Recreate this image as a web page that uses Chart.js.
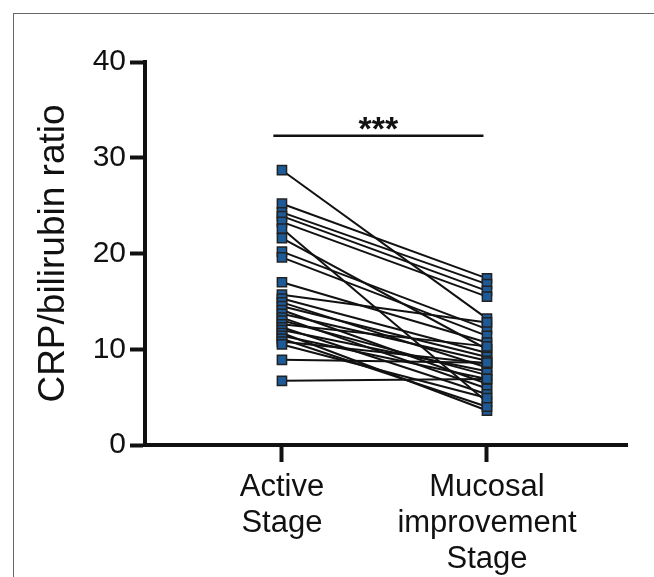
<!DOCTYPE html>
<html>
<head>
<meta charset="utf-8">
<script src="https://cdn.jsdelivr.net/npm/chart.js@4.4.1/dist/chart.umd.min.js"></script>
<style>
	html, body { margin: 0; padding: 0; background: #fff; overflow: hidden; }
	#wrap { position: relative; width: 654px; height: 577px; }
	#frame { position: absolute; left: 13px; top: 13px; width: 700px; height: 700px; border: 1.5px solid #666; }
	#chart { position: absolute; left: 0; top: 0; }
</style>
</head>
<body>
<div id="wrap">
	<div id="frame"></div>
	<canvas id="chart" width="654" height="577"></canvas>
</div>
<script>
// paired values (one entry per patient)
const stageLabels = [["Active", "Stage"], ["Mucosal", "improvement", "Stage"]];
const activeStage = [
	28.7, 25.2, 24.3, 23.9, 23.3, 22.6, 21.6, 20.2, 19.6, 17.0,
	15.7, 15.3, 14.9, 14.5, 14.1, 13.7, 13.3, 13.0, 12.6, 12.3,
	12.0, 11.7, 11.4, 11.1, 10.8, 10.5, 8.9, 6.7
];
const mucosalStage = [
	13.2, 17.4, 16.8, 16.1, 15.5, 4.5, 10.0, 12.1, 11.4, 10.7,
	12.8, 9.6, 8.1, 9.2, 6.4, 8.8, 5.9, 7.3, 10.3, 5.3,
	7.7, 3.6, 6.9, 4.0, 8.5, 4.9, 8.6, 6.9
];
const yTicks = [0, 10, 20, 30, 40];
const sigText = "***";

const fontFamily = "'Liberation Sans', Arial, sans-serif";
const markerFill = "#1c5a98";

// one line per pair, markers on top in a separate dataset
const pairLines = activeStage.map((a, i) => ({
	type: 'line',
	data: [{ x: 1, y: a }, { x: 2, y: mucosalStage[i] }],
	borderColor: '#111',
	borderWidth: 2,
	pointRadius: 0,
	fill: false,
	order: 2
}));

const markers = {
	type: 'scatter',
	data: [
		...activeStage.map(v => ({ x: 1, y: v })),
		...mucosalStage.map(v => ({ x: 2, y: v }))
	],
	pointStyle: 'rect',
	pointRadius: 6.5,
	pointBackgroundColor: markerFill,
	pointBorderColor: '#222',
	pointBorderWidth: 1.5,
	order: 1
};

// significance bar between the two stages
const sigBar = {
	id: 'sigBar',
	afterDraw(chart) {
		const { ctx, scales } = chart;
		const x0 = scales.x.getPixelForValue(0.958);
		const x1 = scales.x.getPixelForValue(1.983);
		const y = scales.y.getPixelForValue(32.3);
		ctx.save();
		ctx.strokeStyle = '#111';
		ctx.lineWidth = 2.5;
		ctx.beginPath();
		ctx.moveTo(x0, y);
		ctx.lineTo(x1, y);
		ctx.stroke();
		ctx.fillStyle = '#111';
		ctx.font = `bold 34px ${fontFamily}`;
		ctx.textAlign = 'center';
		ctx.textBaseline = 'alphabetic';
		ctx.fillText(sigText, (x0 + x1) / 2, y + 4);
		ctx.restore();
	}
};

new Chart(document.getElementById('chart'), {
	data: { datasets: [...pairLines, markers] },
	options: {
		responsive: false,
		animation: false,
		layout: { padding: { top: 62, right: 27, left: 0, bottom: 0 } },
		plugins: { legend: { display: false }, tooltip: { enabled: false } },
		scales: {
			x: {
				type: 'linear',
				min: 0.332,
				max: 2.683,
				afterBuildTicks: (scale) => { scale.ticks = [{ value: 1 }, { value: 2 }]; },
				afterFit: (scale) => { scale.height = 132; },
				ticks: {
					callback: (v) => stageLabels[v - 1],
					color: '#111',
					font: { family: fontFamily, size: 31, lineHeight: 1.17 },
					padding: 7,
					maxRotation: 0,
					autoSkip: false
				},
				grid: { drawOnChartArea: false, drawTicks: true, tickLength: 17, tickWidth: 4, tickColor: '#111' },
				border: { display: true, width: 4, color: '#111' }
			},
			y: {
				min: 0,
				max: 40,
				afterBuildTicks: (scale) => { scale.ticks = yTicks.map(v => ({ value: v })); },
				afterFit: (scale) => { scale.width = 145; },
				ticks: {
					color: '#111',
					font: { family: fontFamily, size: 30 },
					padding: 4
				},
				title: {
					display: true,
					text: 'CRP/bilirubin ratio',
					color: '#111',
					font: { family: fontFamily, size: 37 },
					padding: { top: 32, bottom: 0 }
				},
				grid: { drawOnChartArea: false, drawTicks: true, tickLength: 15, tickWidth: 4, tickColor: '#111' },
				border: { display: true, width: 4, color: '#111' }
			}
		}
	},
	plugins: [sigBar]
});
</script>
</body>
</html>
